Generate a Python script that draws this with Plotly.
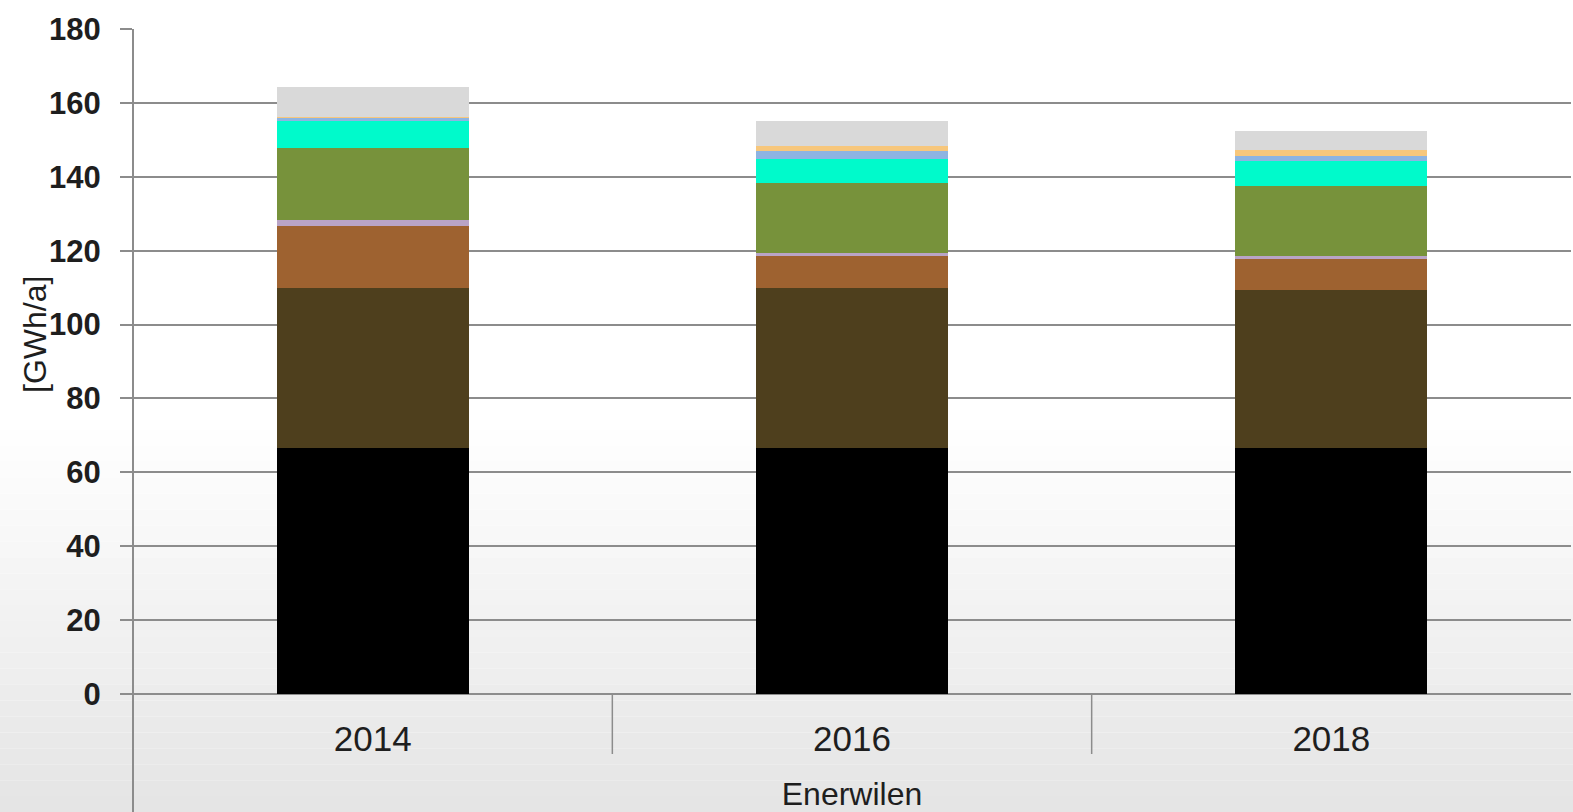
import plotly.graph_objects as go

years = ["2014", "2016", "2018"]
group_label = "Enerwilen"
y_title = "[GWh/a]"

# stacked segments, bottom to top (GWh/a)
seg_names = ["s1", "s2", "s3", "s4", "s5", "s6", "s7", "s8", "s9"]
seg_black = [66.6, 66.6, 66.6]
seg_darkbrown = [43.2, 43.2, 42.7]
seg_brown = [17.0, 8.7, 8.4]
seg_lavender = [1.4, 0.9, 0.8]
seg_olive = [19.6, 18.8, 19.1]
seg_cyan = [7.2, 6.7, 6.8]
seg_lightblue = [1.0, 2.0, 1.1]
seg_yellow = [0.2, 1.5, 1.8]
seg_gray = [8.0, 6.6, 5.0]

series = [seg_black, seg_darkbrown, seg_brown, seg_lavender, seg_olive,
          seg_cyan, seg_lightblue, seg_yellow, seg_gray]
colors = ["#000000", "#4E3F1D", "#9E6230", "#B9A4C6", "#77923B",
          "#00FACB", "#8DB4E2", "#F7C77C", "#D9D9D9"]

fig = go.Figure()
for name, vals, col in zip(seg_names, series, colors):
    fig.add_trace(go.Bar(x=years, y=vals, name=name, width=0.4,
                         marker=dict(color=col, line=dict(width=0)),
                         showlegend=False))

# figure geometry (pixels)
W, H = 1573, 812
ml, mr, mt, mb = 133, 2, 29, 118
pw, ph = W - ml - mr, H - mt - mb
x0p, x1p = -ml / pw, 1 + mr / pw
y_bot = -mb / ph

FONT = "Liberation Sans, Arial, sans-serif"
TXT = "#1e1e1e"

shapes = []
# soft vertical gradient background (white at top, light gray at bottom)
start_px = 430
n = 24
for i in range(n):
    p0 = start_px + (H - start_px) * i / n
    p1 = start_px + (H - start_px) * (i + 1) / n
    t = (i + 0.5) / n
    g = int(round(255 - 27 * t))
    shapes.append(dict(type="rect", xref="paper", yref="paper",
                       x0=x0p, x1=x1p,
                       y0=(H - mb - p1) / ph, y1=(H - mb - p0) / ph,
                       fillcolor=f"rgb({g},{g},{g})", line=dict(width=0),
                       layer="below"))
# left axis line extending down through the category area
shapes.append(dict(type="line", xref="paper", yref="paper", x0=0, x1=0,
                   y0=y_bot, y1=1, line=dict(color="#8C8C8C", width=2),
                   layer="above"))
# category separators
for xs in [0.5, 1.5]:
    shapes.append(dict(type="line", xref="x", yref="paper", x0=xs, x1=xs,
                       y0=-60 / ph, y1=0, line=dict(color="#8C8C8C", width=1.5)))

fig.update_layout(
    width=W, height=H,
    barmode="stack",
    paper_bgcolor="white",
    plot_bgcolor="rgba(0,0,0,0)",
    margin=dict(l=ml, r=mr, t=mt, b=mb, pad=0, autoexpand=False),
    font=dict(family=FONT, color=TXT),
    shapes=shapes,
    xaxis=dict(type="category", range=[-0.5, 2.5], showgrid=False,
               showline=False, ticks="", tickfont=dict(size=35, color=TXT),
               ticklabelstandoff=21, automargin=False,
               title=dict(text=group_label, font=dict(size=32, color=TXT),
                          standoff=35)),
    yaxis=dict(range=[0, 180], dtick=20, showgrid=True, gridcolor="#8C8C8C",
               gridwidth=2, zeroline=True, zerolinecolor="#8C8C8C",
               zerolinewidth=2, showline=False, ticks="outside", ticklen=12,
               tickcolor="#8C8C8C", tickwidth=2, automargin=False,
               tickfont=dict(size=31, color=TXT, weight="bold"),
               ticklabelstandoff=13),
    annotations=[dict(text=y_title, xref="paper", yref="paper",
                      x=(35 - ml) / pw, y=(H - mb - 334) / ph,
                      textangle=-90, showarrow=False,
                      font=dict(size=32, color=TXT),
                      xanchor="center", yanchor="middle")],
)

fig.write_html("out.html", config={"displayModeBar": False},
               post_script="document.body.style.margin='0';document.body.style.overflow='hidden';")
